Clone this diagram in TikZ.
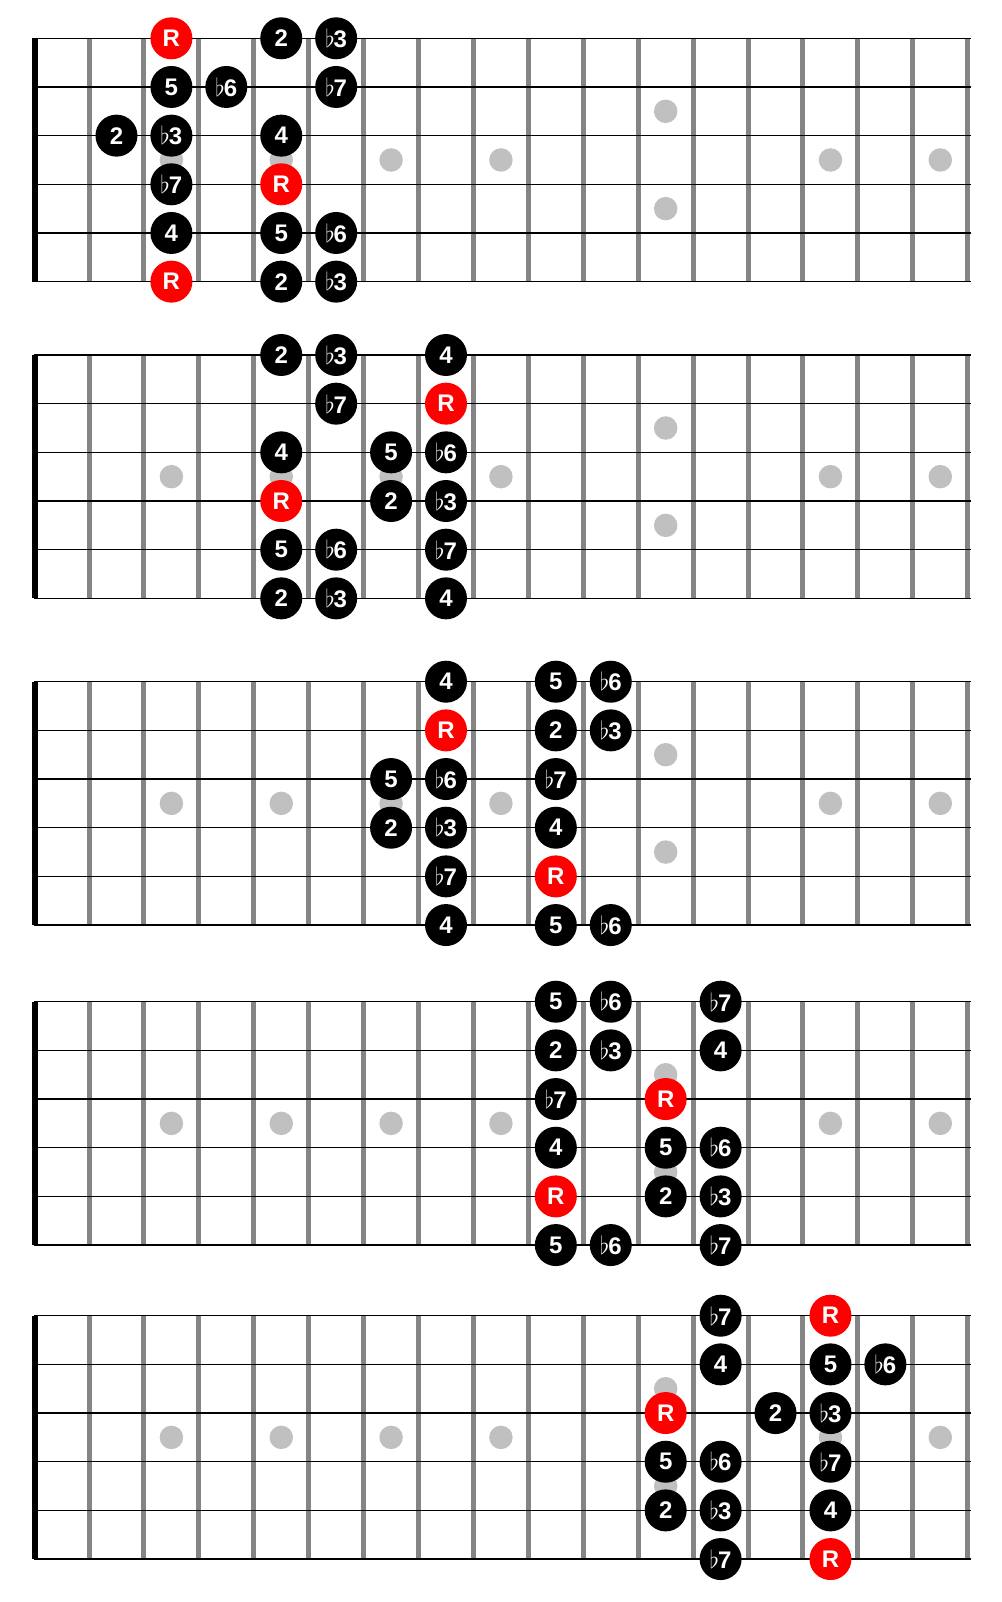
\documentclass[tikz,border=0pt]{standalone}
\usepackage{fontspec}
\usepackage{tikz}

\newfontfamily\notesans{Liberation Sans}
\newcommand{\notelabelfont}{\notesans\bfseries\fontsize{24pt}{24pt}\selectfont}
\newcommand{\fl}[1]{{\fontsize{26pt}{26pt}\selectfont$\flat$}\kern-1pt#1}

\definecolor{rootred}{RGB}{255,0,0}
\definecolor{fretgray}{RGB}{133,133,133}
\definecolor{dotgray}{RGB}{192,192,192}

\begin{document}
\begin{tikzpicture}[x=1pt, y=-1pt,
  note/.style = {circle, fill=black, text=white, minimum size=42pt, inner sep=0pt, font=\notelabelfont},
  root/.style = {note, fill=rootred},
  inlay/.style = {circle, fill=dotgray, minimum size=23.5pt, inner sep=0pt},
  board/.style = {xshift=34.1pt, x=54.92pt, y=-48.67pt}]
\useasboundingbox (0,0) rectangle (1001,1602);
% empty fretboards: inlays, frets, strings, nut
\foreach \b/\top in {1/38.3, 2/355, 3/681.7, 4/1001.7, 5/1315.7} {
  \begin{scope}[board, yshift=-\top pt]
    \foreach \d in {3,5,7,9,15,17}
      \node[inlay] (b\b-dot\d) at (\d-0.5,2.5) {};
    \node[inlay] (b\b-dot12a) at (11.5,1.5) {};
    \node[inlay] (b\b-dot12b) at (11.5,3.5) {};
    \foreach \f in {1,...,17}
      \draw[fretgray, line width=5pt] (\f,0) -- (\f,5);
    \foreach \s in {0,...,5}
      \draw[line width=1.3pt] (0,\s) -- (17.05,\s);
    \draw[line width=5.3pt] (0.016,0) -- (0.016,5);
  \end{scope}
}
%\node[style] (board-string-fret) at (fret,string) {interval};
\begin{scope}[board, yshift=-38.3pt]
  \foreach \f/\s/\t/\st in {3/1/R/root, 5/1/2/note, 6/1/\fl{3}/note,
      3/2/5/note, 4/2/\fl{6}/note, 6/2/\fl{7}/note,
      2/3/2/note, 3/3/\fl{3}/note, 5/3/4/note,
      3/4/\fl{7}/note, 5/4/R/root,
      3/5/4/note, 5/5/5/note, 6/5/\fl{6}/note,
      3/6/R/root, 5/6/2/note, 6/6/\fl{3}/note}
    \node[\st] (b1-\s-\f) at (\f-0.5,\s-1) {\t};
\end{scope}
\begin{scope}[board, yshift=-355pt]
  \foreach \f/\s/\t/\st in {5/1/2/note, 6/1/\fl{3}/note, 8/1/4/note,
      6/2/\fl{7}/note, 8/2/R/root,
      5/3/4/note, 7/3/5/note, 8/3/\fl{6}/note,
      5/4/R/root, 7/4/2/note, 8/4/\fl{3}/note,
      5/5/5/note, 6/5/\fl{6}/note, 8/5/\fl{7}/note,
      5/6/2/note, 6/6/\fl{3}/note, 8/6/4/note}
    \node[\st] (b2-\s-\f) at (\f-0.5,\s-1) {\t};
\end{scope}
\begin{scope}[board, yshift=-681.7pt]
  \foreach \f/\s/\t/\st in {8/1/4/note, 10/1/5/note, 11/1/\fl{6}/note,
      8/2/R/root, 10/2/2/note, 11/2/\fl{3}/note,
      7/3/5/note, 8/3/\fl{6}/note, 10/3/\fl{7}/note,
      7/4/2/note, 8/4/\fl{3}/note, 10/4/4/note,
      8/5/\fl{7}/note, 10/5/R/root,
      8/6/4/note, 10/6/5/note, 11/6/\fl{6}/note}
    \node[\st] (b3-\s-\f) at (\f-0.5,\s-1) {\t};
\end{scope}
\begin{scope}[board, yshift=-1001.7pt]
  \foreach \f/\s/\t/\st in {10/1/5/note, 11/1/\fl{6}/note, 13/1/\fl{7}/note,
      10/2/2/note, 11/2/\fl{3}/note, 13/2/4/note,
      10/3/\fl{7}/note, 12/3/R/root,
      10/4/4/note, 12/4/5/note, 13/4/\fl{6}/note,
      10/5/R/root, 12/5/2/note, 13/5/\fl{3}/note,
      10/6/5/note, 11/6/\fl{6}/note, 13/6/\fl{7}/note}
    \node[\st] (b4-\s-\f) at (\f-0.5,\s-1) {\t};
\end{scope}
\begin{scope}[board, yshift=-1315.7pt]
  \foreach \f/\s/\t/\st in {13/1/\fl{7}/note, 15/1/R/root,
      13/2/4/note, 15/2/5/note, 16/2/\fl{6}/note,
      12/3/R/root, 14/3/2/note, 15/3/\fl{3}/note,
      12/4/5/note, 13/4/\fl{6}/note, 15/4/\fl{7}/note,
      12/5/2/note, 13/5/\fl{3}/note, 15/5/4/note,
      13/6/\fl{7}/note, 15/6/R/root}
    \node[\st] (b5-\s-\f) at (\f-0.5,\s-1) {\t};
\end{scope}
\end{tikzpicture}
\end{document}
